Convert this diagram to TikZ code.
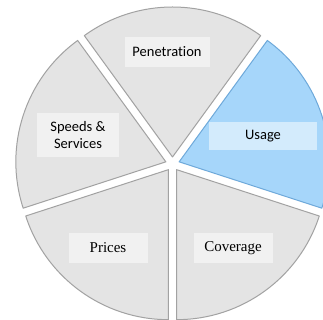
\documentclass[tikz,border=0pt]{standalone}
\usepackage{fontspec}
\usetikzlibrary{calc}
\setmainfont{Carlito}[Ligatures=NoCommon]
\newfontfamily\serifface{Liberation Serif}
\definecolor{wedgegrey}{HTML}{E4E4E4}
\definecolor{edgegrey}{HTML}{A2A2A2}
\definecolor{boxgrey}{HTML}{F1F1F1}
\definecolor{wedgeblue}{HTML}{A6D6FA}
\definecolor{edgeblue}{HTML}{6EA9DA}
\definecolor{boxblue}{HTML}{D3EBFC}
\tikzset{
  wedge/.style={fill=wedgegrey, draw=edgegrey, line width=1pt, line join=round},
  bluewedge/.style={fill=wedgeblue, draw=edgeblue, line width=1pt, line join=round},
  labelbox/.style={fill=boxgrey, inner sep=0pt, align=center, font=\fontsize{14.5}{17.5}\selectfont},
  bluebox/.style={labelbox, fill=boxblue},
  seriflabel/.style={labelbox, font=\serifface\fontsize{15}{18}\selectfont}
}
\begin{document}
\begin{tikzpicture}[x=1pt,y=1pt]
\useasboundingbox (0,0) rectangle (323,320);
\clip (0,0) rectangle (323,320);
\fill[white] (0,0) rectangle (323,320);
\coordinate (C) at (172.5,156);
% wedges: centre angle, style
\foreach \a/\st in {90/wedge, 18/bluewedge, -54/wedge, -126/wedge, 162/wedge}{
  \path[\st] ($(C)+(\a:7)$) coordinate (apex) -- ++(\a-36:150)
     arc[start angle=\a-36, end angle=\a+36, radius=150] -- cycle;
}
\node[labelbox, minimum width=85pt, minimum height=30pt] (pen) at (167,268) {Penetration};
\node[bluebox, minimum width=108pt, minimum height=28pt] (use) at (263,184) {Usage};
\node[labelbox, minimum width=82pt, minimum height=44pt] (spd) at (78,185) {Speeds \&\\Services};
\node[seriflabel, minimum width=79pt, minimum height=30pt] (pri) at (108,72) {Prices};
\node[seriflabel, minimum width=79pt, minimum height=30pt] (cov) at (233,72) {Coverage};
\end{tikzpicture}
\end{document}
